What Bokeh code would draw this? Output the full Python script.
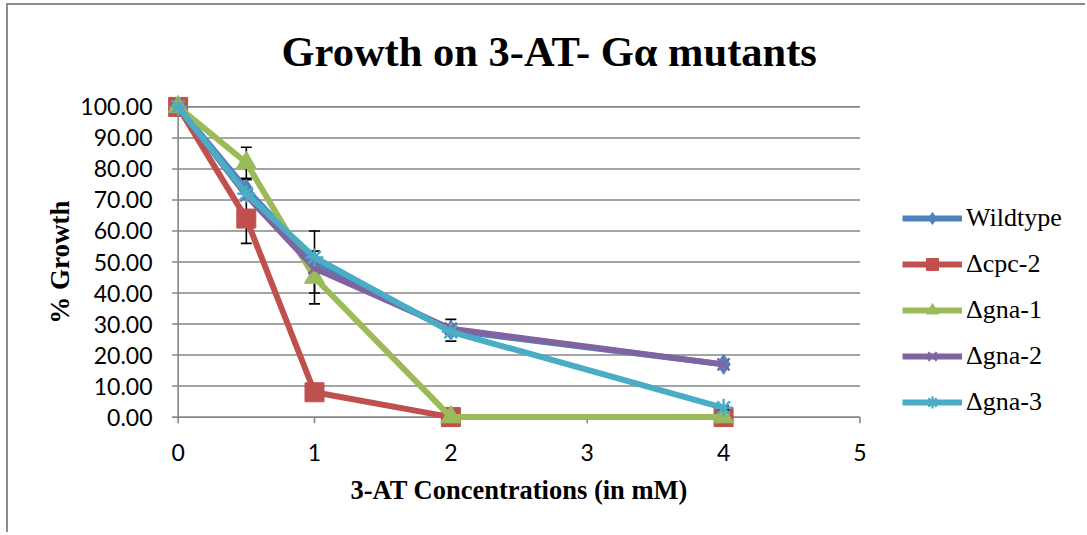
from bokeh.plotting import figure
from bokeh.models import Range1d, FixedTicker, NumeralTickFormatter, Legend, LegendItem, Title
from bokeh.embed import file_html
from bokeh.resources import INLINE

# ---- data ----
conc = [0, 0.5, 1, 2, 4]
series_names = ["Wildtype", "Δcpc-2", "Δgna-1", "Δgna-2", "Δgna-3"]
wildtype = [100, 73.5, 50, 28, 17]
cpc2 = [100, 64, 8, 0, 0]
gna1 = [100, 82, 45, 0, 0]
gna2 = [100, 71.5, 48, 28.5, 17]
gna3 = [100, 72, 51.5, 27.5, 3]
wildtype_err = [0, 3, 10, 3.5, 0]
cpc2_err = [0, 8, 0, 0, 0]
gna1_err = [0, 5, 8.5, 0, 0]
gna2_err = [0, 0, 0, 0, 0]
gna3_err = [0, 0, 0, 0, 0.6]
y_ticks = [0, 10, 20, 30, 40, 50, 60, 70, 80, 90, 100]
x_ticks = [0, 1, 2, 3, 4, 5]

title_text = "Growth on 3-AT- Gα mutants"
x_title = "3-AT Concentrations (in mM)"
y_title = "% Growth"

values = [wildtype, cpc2, gna1, gna2, gna3]
errors = [wildtype_err, cpc2_err, gna1_err, gna2_err, gna3_err]
colors = ["#4F81BD", "#C0504D", "#9BBB59", "#8064A2", "#4BACC6"]
markers = ["diamond", "square", "triangle", "x", "asterisk"]
msizes = [20, 19, 20, 17, 18]

GRID = "#868686"
SERIF = "Liberation Serif"
SANS = "Lato"

p = figure(width=1079, height=529,
           x_range=Range1d(-0.1, 6.5), y_range=Range1d(-4, 104),
           output_backend="svg", toolbar_location=None,
           min_border_left=156, min_border_right=23,
           min_border_top=89, min_border_bottom=105,
           styles={"border-left": "2px solid #8c8c8c", "border-top": "2px solid #8c8c8c",
                   "margin-left": "6px", "margin-top": "3px"})
p.outline_line_color = None
p.xgrid.grid_line_color = None
p.ygrid.grid_line_color = None

# title
p.title.text = title_text
p.title.text_font = SERIF
p.title.text_font_style = "bold"
p.title.text_font_size = "42.5px"
p.title.text_color = "black"
p.title.align = "left"
p.title.offset = 117
p.title.vertical_align = "top"
p.title.standoff = 36

# axes: labels only, lines drawn from ticks below
for ax in (p.xaxis[0], p.yaxis[0]):
    ax.axis_line_color = None
    ax.major_tick_line_color = None
    ax.minor_tick_line_color = None
    ax.major_label_text_font = SANS
    ax.major_label_text_font_size = "23px"
    ax.major_label_text_color = "black"
    ax.axis_label_text_font = SERIF
    ax.axis_label_text_font_style = "bold"
    ax.axis_label_text_font_size = "27px"
    ax.axis_label_text_color = "black"

p.xaxis.ticker = FixedTicker(ticks=x_ticks)
p.yaxis.ticker = FixedTicker(ticks=y_ticks)
p.yaxis.formatter = NumeralTickFormatter(format="0.00")
p.yaxis.axis_label = y_title
p.yaxis.major_label_standoff = 6
p.yaxis.axis_label_standoff = 2
p.xaxis.major_label_standoff = 8

xt = Title(text=x_title, text_font=SERIF, text_font_style="bold", text_font_size="26.5px",
           text_color="black", align="left", offset=186, standoff=18)
p.add_layout(xt, "below")

# gridlines + y tick marks, axis lines, x tick marks
ytick_len = 0.044
xtick_len = 2.0
p.segment(x0=[-ytick_len] * len(y_ticks), x1=[max(x_ticks)] * len(y_ticks),
          y0=y_ticks, y1=y_ticks, line_color=GRID, line_width=1.6)
p.segment(x0=[0], x1=[0], y0=[0], y1=[max(y_ticks)], line_color=GRID, line_width=1.6)
p.segment(x0=x_ticks, x1=x_ticks, y0=[0] * len(x_ticks), y1=[-xtick_len] * len(x_ticks),
          line_color=GRID, line_width=1.6)

items = []
for name, vals, errs, col, mk, ms in zip(series_names, values, errors, colors, markers, msizes):
    ex = [c for c, e in zip(conc, errs) if e > 0]
    up = [v + e for v, e in zip(vals, errs) if e > 0]
    lo = [v - e for v, e in zip(vals, errs) if e > 0]
    if ex:
        p.segment(x0=ex, x1=ex, y0=lo, y1=up, line_color="black", line_width=1.6)
        p.scatter(x=ex + ex, y=up + lo, marker="dash", size=11, line_color="black",
                  line_width=1.6)
    r1 = p.line(conc, vals, line_color=col, line_width=6)
    if mk in ("x", "asterisk"):
        r2 = p.scatter(conc, vals, marker=mk, size=ms, line_color=col, line_width=2.4)
    else:
        r2 = p.scatter(conc, vals, marker=mk, size=ms, fill_color=col, line_color=col)
    items.append(LegendItem(label=name, renderers=[r1, r2]))

legend = Legend(items=items, location=(738, 12))
legend.background_fill_color = None
legend.border_line_color = None
legend.padding = 0
legend.margin = 0
legend.glyph_width = 60
legend.glyph_height = 30
legend.label_height = 30
legend.spacing = 16
legend.label_standoff = 4
legend.label_text_font = SERIF
legend.label_text_font_size = "26px"
legend.label_text_color = "black"
p.add_layout(legend)

open("out.html", "w").write(file_html(p, INLINE))
